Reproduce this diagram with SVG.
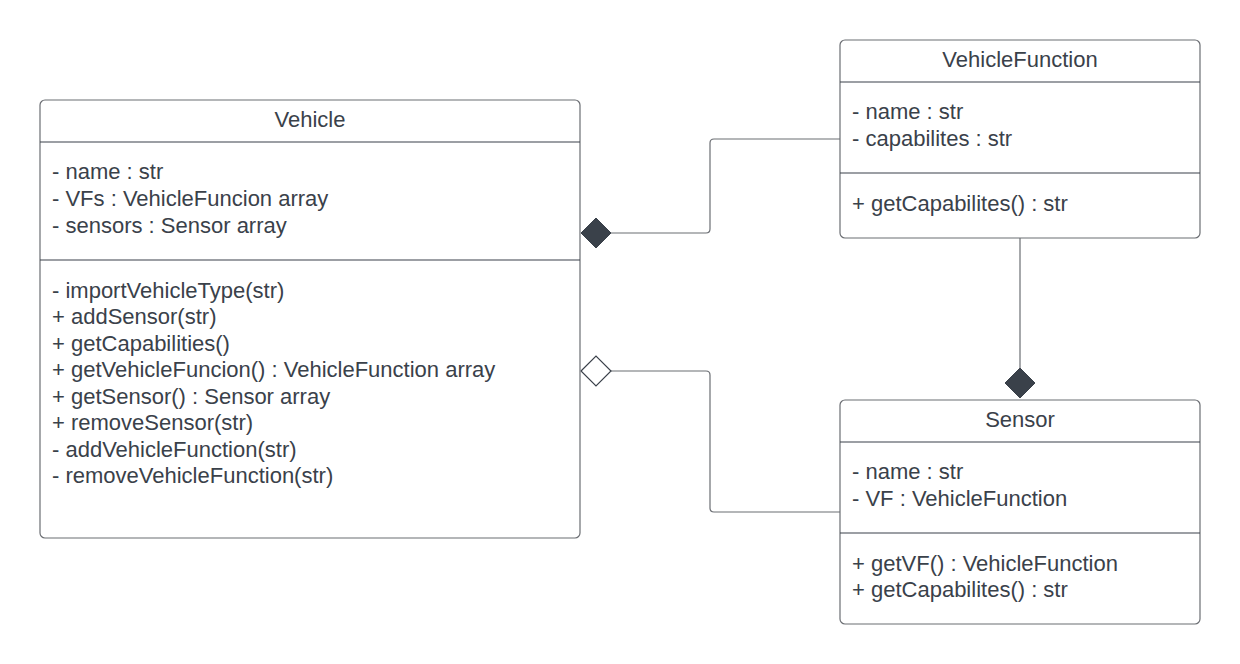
<svg xmlns="http://www.w3.org/2000/svg" width="1240" height="664" viewBox="0 0 1240 664">
<style>
.box{fill:#ffffff;stroke:#6b6e73;stroke-width:1.2}
.div{stroke:#3a414a;stroke-width:1.2}
.t{font-family:"Liberation Sans",Arial,sans-serif;font-size:22px;fill:#3a414a}
.c{text-anchor:middle}
.edge{fill:none;stroke:#6b6e73;stroke-width:1.2}
</style>
<rect width="1240" height="664" fill="#ffffff"/>
<g id="connectors">
<path class="edge" d="M840,139 H714 Q710,139 710,143 V229 Q710,233 706,233 H611"/>
<polygon points="581,233 596,218 611,233 596,248" fill="#3a414a" stroke="#3a414a" stroke-width="1"/>
<path class="edge" d="M611,371 H706 Q710,371 710,375 V508 Q710,512 714,512 H840"/>
<polygon points="581,371 596,356 611,371 596,386" fill="#ffffff" stroke="#3a414a" stroke-width="1.2"/>
<path class="edge" d="M1020,238 V368"/>
<polygon points="1020,368 1035,383 1020,398 1005,383" fill="#3a414a" stroke="#3a414a" stroke-width="1"/>
</g>
<g id="Vehicle">
<rect class="box" x="40" y="100" width="540" height="438" rx="5"/>
<line class="div" x1="40" y1="142" x2="580" y2="142"/>
<line class="div" x1="40" y1="260" x2="580" y2="260"/>
<text class="t c" x="310" y="127">Vehicle</text>
<text class="t" x="52" y="179">- name : str</text>
<text class="t" x="52" y="206">- VFs : VehicleFuncion array</text>
<text class="t" x="52" y="233">- sensors : Sensor array</text>
<text class="t" x="52" y="298">- importVehicleType(str)</text>
<text class="t" x="52" y="324">+ addSensor(str)</text>
<text class="t" x="52" y="351">+ getCapabilities()</text>
<text class="t" x="52" y="377">+ getVehicleFuncion() : VehicleFunction array</text>
<text class="t" x="52" y="404">+ getSensor() : Sensor array</text>
<text class="t" x="52" y="430">+ removeSensor(str)</text>
<text class="t" x="52" y="457">- addVehicleFunction(str)</text>
<text class="t" x="52" y="483">- removeVehicleFunction(str)</text>
</g>
<g id="VehicleFunction">
<rect class="box" x="840" y="40" width="360" height="198" rx="5"/>
<line class="div" x1="840" y1="82" x2="1200" y2="82"/>
<line class="div" x1="840" y1="173" x2="1200" y2="173"/>
<text class="t c" x="1020" y="67">VehicleFunction</text>
<text class="t" x="852" y="119">- name : str</text>
<text class="t" x="852" y="146">- capabilites : str</text>
<text class="t" x="852" y="211">+ getCapabilites() : str</text>
</g>
<g id="Sensor">
<rect class="box" x="840" y="400" width="360" height="224" rx="5"/>
<line class="div" x1="840" y1="442" x2="1200" y2="442"/>
<line class="div" x1="840" y1="533" x2="1200" y2="533"/>
<text class="t c" x="1020" y="427">Sensor</text>
<text class="t" x="852" y="479">- name : str</text>
<text class="t" x="852" y="506">- VF : VehicleFunction</text>
<text class="t" x="852" y="571">+ getVF() : VehicleFunction</text>
<text class="t" x="852" y="597">+ getCapabilites() : str</text>
</g>
</svg>
